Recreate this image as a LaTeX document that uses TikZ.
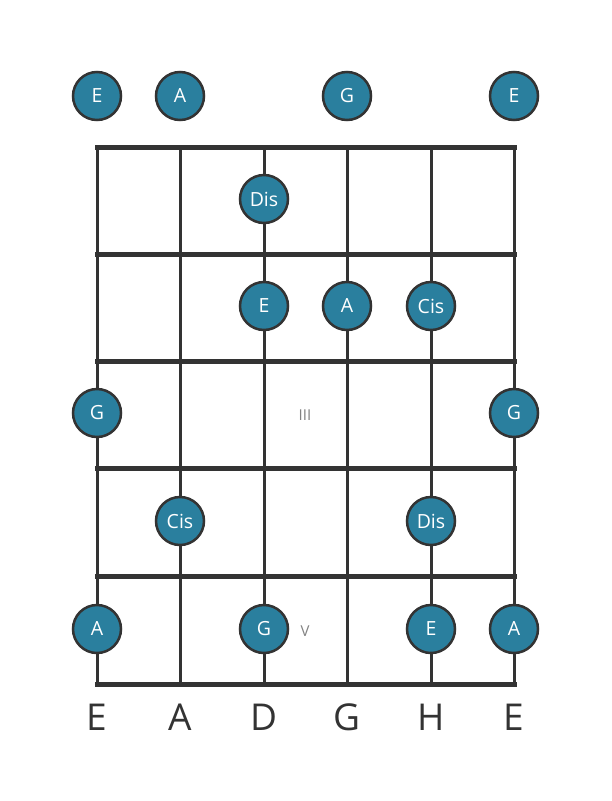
\documentclass[tikz,border=0pt]{standalone}
\usepackage{fontspec}
\setmainfont{Open Sans}
\usepackage{tikz}
\usetikzlibrary{positioning}
\usetikzlibrary{calc}
\definecolor{color-note}{RGB}{42,127,158}
\definecolor{color-line}{RGB}{51,51,51}
\definecolor{color-roman}{RGB}{130,130,130}

\begin{document}
\begin{tikzpicture}[x=1pt, y=-1pt,
note/.style={circle,minimum size=48pt,inner sep=0pt,draw=color-line,line width=2.5pt,fill=color-note,text=white,font=\fontsize{19.5}{19.5}\selectfont},
string/.style={color-line,line width=3pt},
fret/.style={color-line,line width=5pt},
tuning/.style={text=color-line,font=\fontsize{37}{37}\selectfont},
roman/.style={text=color-roman,font=\fontsize{15}{15}\selectfont}]
\useasboundingbox (0,0) rectangle (611,801);

% strings
\coordinate (s1t) at (97,147);  \coordinate (s1b) at (97,684);
\coordinate (s2t) at (180,147); \coordinate (s2b) at (180,684);
\coordinate (s3t) at (264,147); \coordinate (s3b) at (264,684);
\coordinate (s4t) at (347,147); \coordinate (s4b) at (347,684);
\coordinate (s5t) at (431,147); \coordinate (s5b) at (431,684);
\coordinate (s6t) at (514,147); \coordinate (s6b) at (514,684);
\draw[string] (s1t) -- (s1b);
\draw[string] (s2t) -- (s2b);
\draw[string] (s3t) -- (s3b);
\draw[string] (s4t) -- (s4b);
\draw[string] (s5t) -- (s5b);
\draw[string] (s6t) -- (s6b);

% frets
\foreach \y [count=\i from 0] in {147,254,361,468,576,684} {
  \coordinate (f\i l) at (97,\y);
  \coordinate (f\i r) at (514,\y);
  \draw[fret,line cap=rect] (f\i l) -- (f\i r);
}

% position marks
\node [roman] (III) at (305,415) {III};
\node [roman] (V) at (305,631) {V};

% open strings
\node [note] (o1) at (97,96) {E};
\node [note] (o2) at (180,96) {A};
\node [note] (o4) at (347,96) {G};
\node [note] (o6) at (514,96) {E};

% fret 1
\node [note] (n1d) at (264,199) {Dis};
% fret 2
\node [note] (n2e) at (264,306) {E};
\node [note] (n2a) at (347,306) {A};
\node [note] (n2cis) at (431,306) {Cis};
% fret 3
\node [note] (n3g) at (97,413) {G};
\node [note] (n3gg) at (514,413) {G};
% fret 4
\node [note] (n4cis) at (180,521) {Cis};
\node [note] (n4dis) at (431,521) {Dis};
% fret 5
\node [note] (n5a) at (97,629) {A};
\node [note] (n5g) at (264,629) {G};
\node [note] (n5e) at (431,629) {E};
\node [note] (n5aa) at (514,629) {A};

% tuning
\node [tuning] (t1) at (97,717) {E};
\node [tuning] (t2) at (180,717) {A};
\node [tuning] (t3) at (264,717) {D};
\node [tuning] (t4) at (347,717) {G};
\node [tuning] (t5) at (431,717) {H};
\node [tuning] (t6) at (514,717) {E};

\end{tikzpicture}
\end{document}
